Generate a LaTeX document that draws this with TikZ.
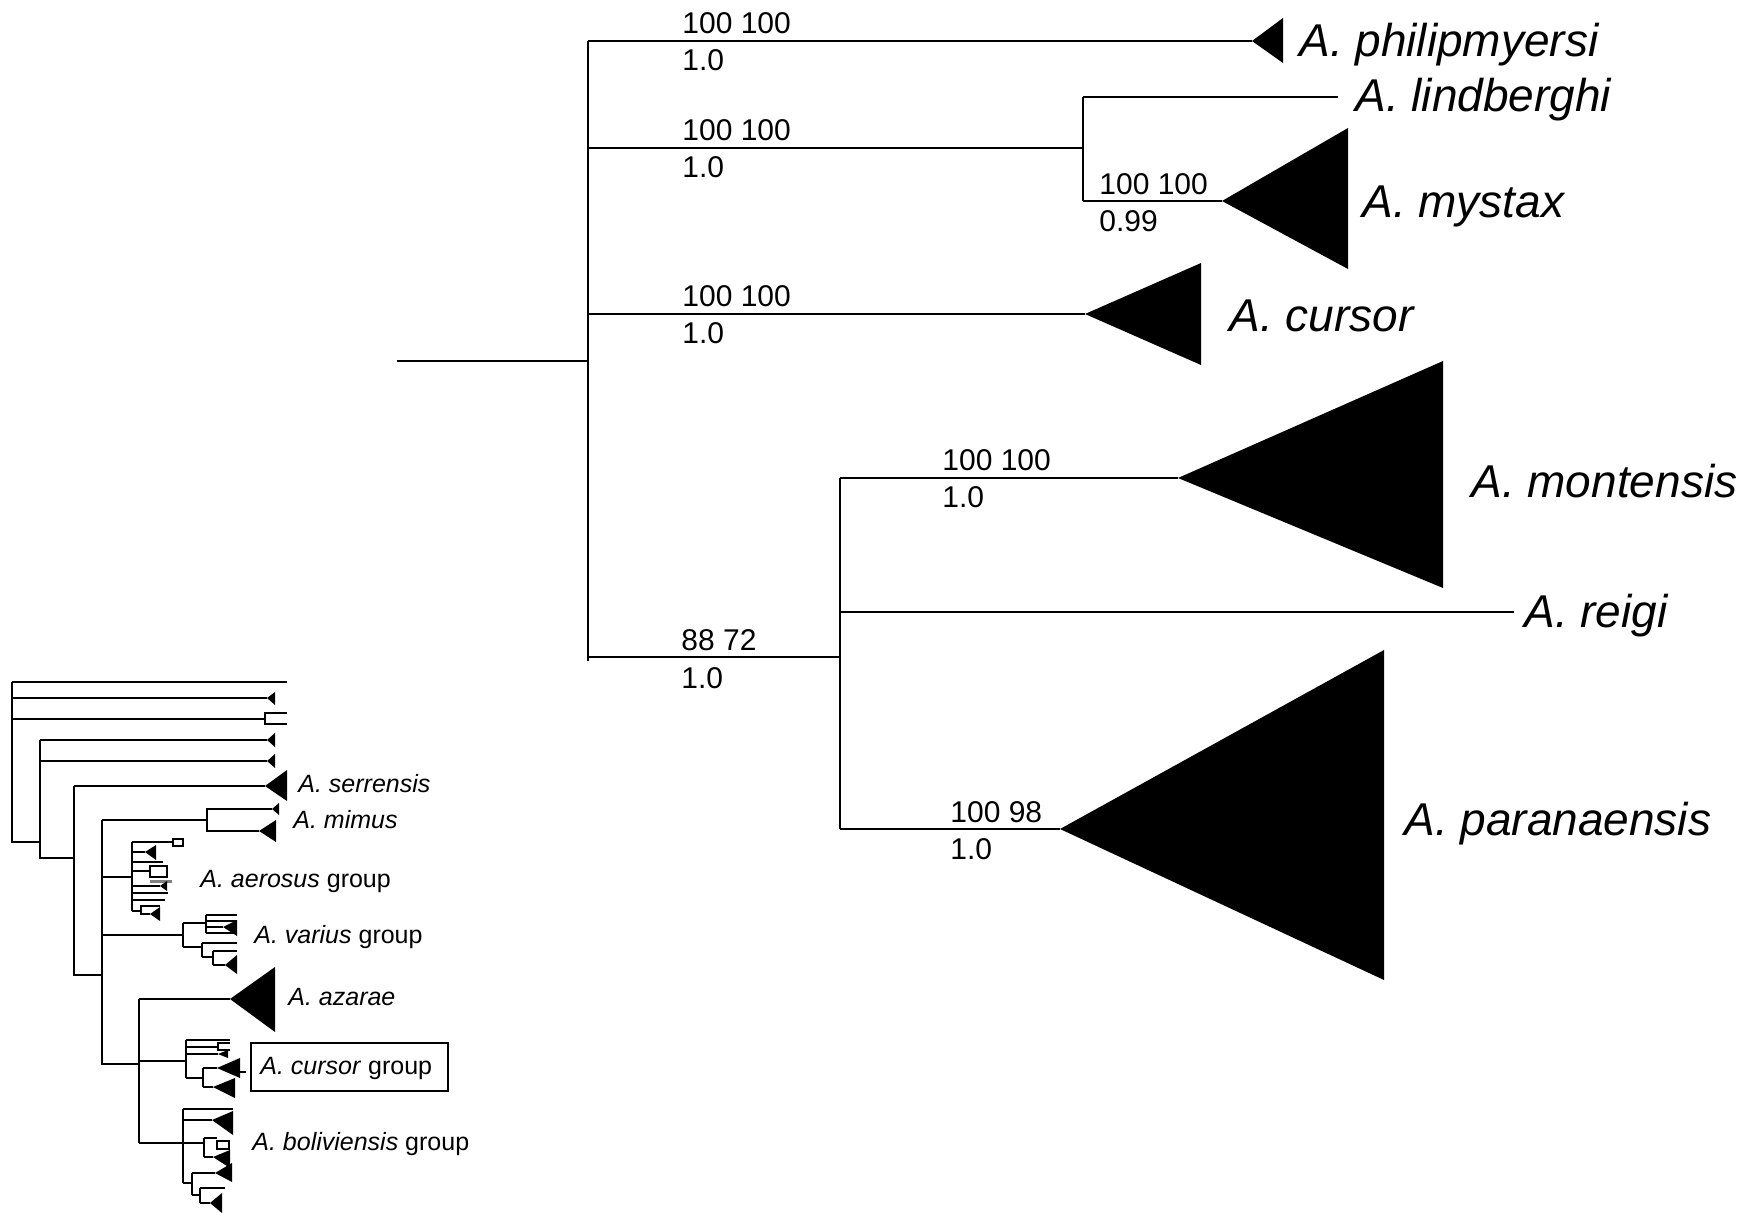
\documentclass[tikz,border=0pt]{standalone}
\usepackage{fontspec}
\setmainfont{Liberation Sans}
\begin{document}
\begin{tikzpicture}[x=0.5pt,y=-0.5pt,
  br/.style={line width=1pt},
  st/.style={line width=1.05pt},
  clade/.style={fill=black},
  supp/.style={font=\fontsize{15}{18}\selectfont, anchor=base west, inner sep=0pt},
  sp/.style={font=\fontsize{23}{27}\selectfont\itshape, anchor=base west, inner sep=0pt},
  sm/.style={font=\fontsize{12.5}{15}\selectfont, anchor=base west, inner sep=0pt}]
\useasboundingbox (0,0) rectangle (1756,1213);

% ---------------- main tree ----------------
\coordinate (root) at (397,361);
\coordinate (A) at (588,361);
\coordinate (Atop) at (588,41);
\coordinate (Abot) at (588,661);
\coordinate (phil) at (1252,41);
\coordinate (B) at (1083,148);
\coordinate (lind) at (1338,97);
\coordinate (myst) at (1222,201);
\coordinate (curs) at (1085,314);
\coordinate (C) at (840,657);
\coordinate (mont) at (1178,478);
\coordinate (reig) at (1514,612);
\coordinate (para) at (1060,829);

\draw[br] (root) -- (A);
\draw[br] (Atop) -- (Abot);
\draw[br] (Atop) -- (phil);
\draw[br] (A |- B) -- (B);
\draw[br] (B |- lind) -- (B |- myst);
\draw[br] (B |- lind) -- (lind);
\draw[br] (B |- myst) -- (myst);
\draw[br] (A |- curs) -- (curs);
\draw[br] (A |- C) -- (C);
\draw[br] (C |- mont) -- (C |- para);
\draw[br] (C |- mont) -- (mont);
\draw[br] (C |- reig) -- (reig);
\draw[br] (C |- para) -- (para);

\fill[clade] (phil) -- ++(31,-23) -- ++(0,45) -- cycle;
\fill[clade] (myst) -- ++(126,-73) -- ++(0,141) -- cycle;
\fill[clade] (curs) -- ++(116,-51) -- ++(0,102) -- cycle;
\fill[clade] (mont) -- ++(265,-117) -- ++(0,227) -- cycle;
\fill[clade] (para) -- ++(324,-179) -- ++(0,330) -- cycle;

% support values
\node[supp] (s1a) at (682,34) {100 100};
\node[supp] (s1b) at (682,71) {1.0};
\node[supp] (s2a) at (682,141) {100 100};
\node[supp] (s2b) at (682,178) {1.0};
\node[supp] (s3a) at (682,307) {100 100};
\node[supp] (s3b) at (682,344) {1.0};
\node[supp] (s4a) at (681,650) {88 72};
\node[supp] (s4b) at (681,688) {1.0};
\node[supp] (s5a) at (1099,195) {100 100};
\node[supp] (s5b) at (1099,232) {0.99};
\node[supp] (s6a) at (942,471) {100 100};
\node[supp] (s6b) at (942,508) {1.0};
\node[supp] (s7a) at (950,822) {100 98};
\node[supp] (s7b) at (950,859) {1.0};

% species labels
\node[sp] (Lphil) at (1299,57) {A. philipmyersi};
\node[sp] (Llind) at (1355,112) {A. lindberghi};
\node[sp] (Lmyst) at (1362,218) {A. mystax};
\node[sp] (Lcurs) at (1229,332) {A. cursor};
\node[sp] (Lmont) at (1471,498) {A. montensis};
\node[sp] (Lreig) at (1524,627) {A. reigi};
\node[sp] (Lpara) at (1404,835) {A. paranaensis};

% ---------------- inset tree ----------------
% backbone
\draw[st] (12,682) -- (12,842) -- (40,842);
\draw[st] (40,740) -- (40,858) -- (74,858);
\draw[st] (74,786) -- (74,975) -- (102,975);
\draw[st] (102,820) -- (102,1064) -- (139,1064);
\draw[st] (139,999) -- (139,1143);

% top branches
\draw[st] (12,682) -- (287,682);
\draw[st] (12,698) -- (267,698);
\fill[clade] (267,698) -- (275,692) -- (275,705) -- cycle;
\draw[st] (12,719) -- (265,719);
\draw[st] (287,713) -- (265,713) -- (265,724) -- (287,724);
\draw[st] (40,740) -- (267,740);
\fill[clade] (267,740) -- (275,733) -- (275,747) -- cycle;
\draw[st] (40,761) -- (267,761);
\fill[clade] (267,761) -- (275,754) -- (275,768) -- cycle;

% serrensis
\draw[st] (74,786) -- (265,786);
\fill[clade] (265,786) -- (287,770) -- (287,801) -- cycle;

% mimus
\draw[st] (102,820) -- (207,820);
\draw[st] (272,809) -- (207,809) -- (207,831) -- (259,831);
\fill[clade] (272,809) -- (279,803) -- (279,815) -- cycle;
\fill[clade] (259,831) -- (276,820) -- (276,842) -- cycle;

% aerosus group
\draw[st] (102,877) -- (132,877);
\draw[st] (132,842) -- (132,911);
\draw[st] (132,842) -- (173,842);
\draw[st] (173,839) rectangle (183,846);
\draw[st] (132,852) -- (145,852);
\fill[clade] (145,852) -- (156,845) -- (156,860) -- cycle;
\draw[st] (132,862) -- (163,862);
\draw[st] (132,871) -- (150,871);
\draw[st] (150,866) rectangle (167,877);
\draw[line width=1.5pt, gray] (150,881) -- (172,881);
\draw[st] (132,886) -- (160,886);
\fill[clade] (160,886) -- (167,881) -- (167,891) -- cycle;
\draw[st] (132,893) -- (168,893);
\draw[st] (132,900) -- (165,900);
\draw[st] (132,911) -- (141,911);
\draw[st] (160,906) -- (141,906) -- (141,914) -- (150,914);
\fill[clade] (150,914) -- (160,907) -- (160,921) -- cycle;

% varius group
\draw[st] (102,935) -- (183,935);
\draw[st] (183,923) -- (183,947);
\draw[st] (183,923) -- (206,923);
\draw[st] (206,915) -- (206,933);
\draw[st] (206,915) -- (237,915);
\draw[st] (206,921) -- (237,921);
\draw[st] (206,927) -- (223,927);
\fill[clade] (223,927) -- (237,920) -- (237,936) -- cycle;
\draw[st] (206,933) -- (237,933);
\draw[st] (183,947) -- (202,947);
\draw[st] (202,943) -- (202,957);
\draw[st] (202,943) -- (237,943);
\draw[st] (202,957) -- (213,957);
\draw[st] (213,951) -- (213,965);
\draw[st] (213,951) -- (237,951);
\draw[st] (213,965) -- (225,965);
\fill[clade] (225,965) -- (237,955) -- (237,974) -- cycle;

% azarae
\draw[st] (139,999) -- (230,999);
\fill[clade] (230,999) -- (275,967) -- (275,1032) -- cycle;

% cursor group
\draw[st] (139,1061) -- (186,1061);
\draw[st] (186,1040) -- (186,1078);
\draw[st] (186,1040) -- (230,1040);
\draw[st] (186,1047) -- (218,1047);
\draw[st] (230,1043) -- (218,1043) -- (218,1050) -- (230,1050);
\draw[st] (186,1054) -- (218,1054);
\fill[clade] (218,1054) -- (228,1050) -- (228,1058) -- cycle;
\draw[st] (186,1078) -- (203,1078);
\draw[st] (203,1068) -- (203,1087);
\draw[st] (203,1068) -- (217,1068);
\fill[clade] (217,1068) -- (240,1058) -- (240,1078) -- cycle;
\draw[st] (238,1072) -- (246,1072);
\draw[st] (203,1087) -- (213,1087);
\fill[clade] (213,1087) -- (235,1078) -- (235,1098) -- cycle;

% boliviensis group
\draw[st] (139,1143) -- (183,1143);
\draw[st] (183,1109) -- (183,1183);
\draw[st] (183,1109) -- (233,1109);
\draw[st] (183,1120) -- (212,1120);
\fill[clade] (212,1120) -- (233,1111) -- (233,1135) -- cycle;
\draw[st] (183,1143) -- (204,1143);
\draw[st] (204,1138) -- (204,1157);
\draw[st] (204,1138) -- (217,1138);
\draw[st] (217,1141) rectangle (229,1149);
\draw[st] (204,1157) -- (213,1157);
\fill[clade] (213,1157) -- (230,1150) -- (230,1168) -- cycle;
\draw[st] (183,1183) -- (192,1183);
\draw[st] (192,1173) -- (192,1195);
\draw[st] (192,1173) -- (215,1173);
\fill[clade] (215,1173) -- (232,1163) -- (232,1182) -- cycle;
\draw[st] (192,1195) -- (200,1195);
\draw[st] (200,1188) -- (200,1203);
\draw[st] (200,1188) -- (225,1188);
\draw[st] (200,1203) -- (210,1203);
\fill[clade] (210,1203) -- (222,1193) -- (222,1213) -- cycle;

% inset labels
\node[sm] (ls) at (298,792) {\textit{A. serrensis}};
\node[sm] (lm) at (293,828) {\textit{A. mimus}};
\node[sm] (la) at (200,887) {\textit{A. aerosus} group};
\node[sm] (lv) at (254,943) {\textit{A. varius} group};
\node[sm] (lz) at (288,1005) {\textit{A. azarae}};
\node[draw, line width=0.8pt, minimum width=98.5pt, minimum height=24pt, inner sep=0pt] (cbox) at (349.5,1067) {};
\node[sm] (lc) at (260,1074) {\textit{A. cursor} group};
\node[sm] (lb) at (252,1150) {\textit{A. boliviensis} group};
\end{tikzpicture}
\end{document}
